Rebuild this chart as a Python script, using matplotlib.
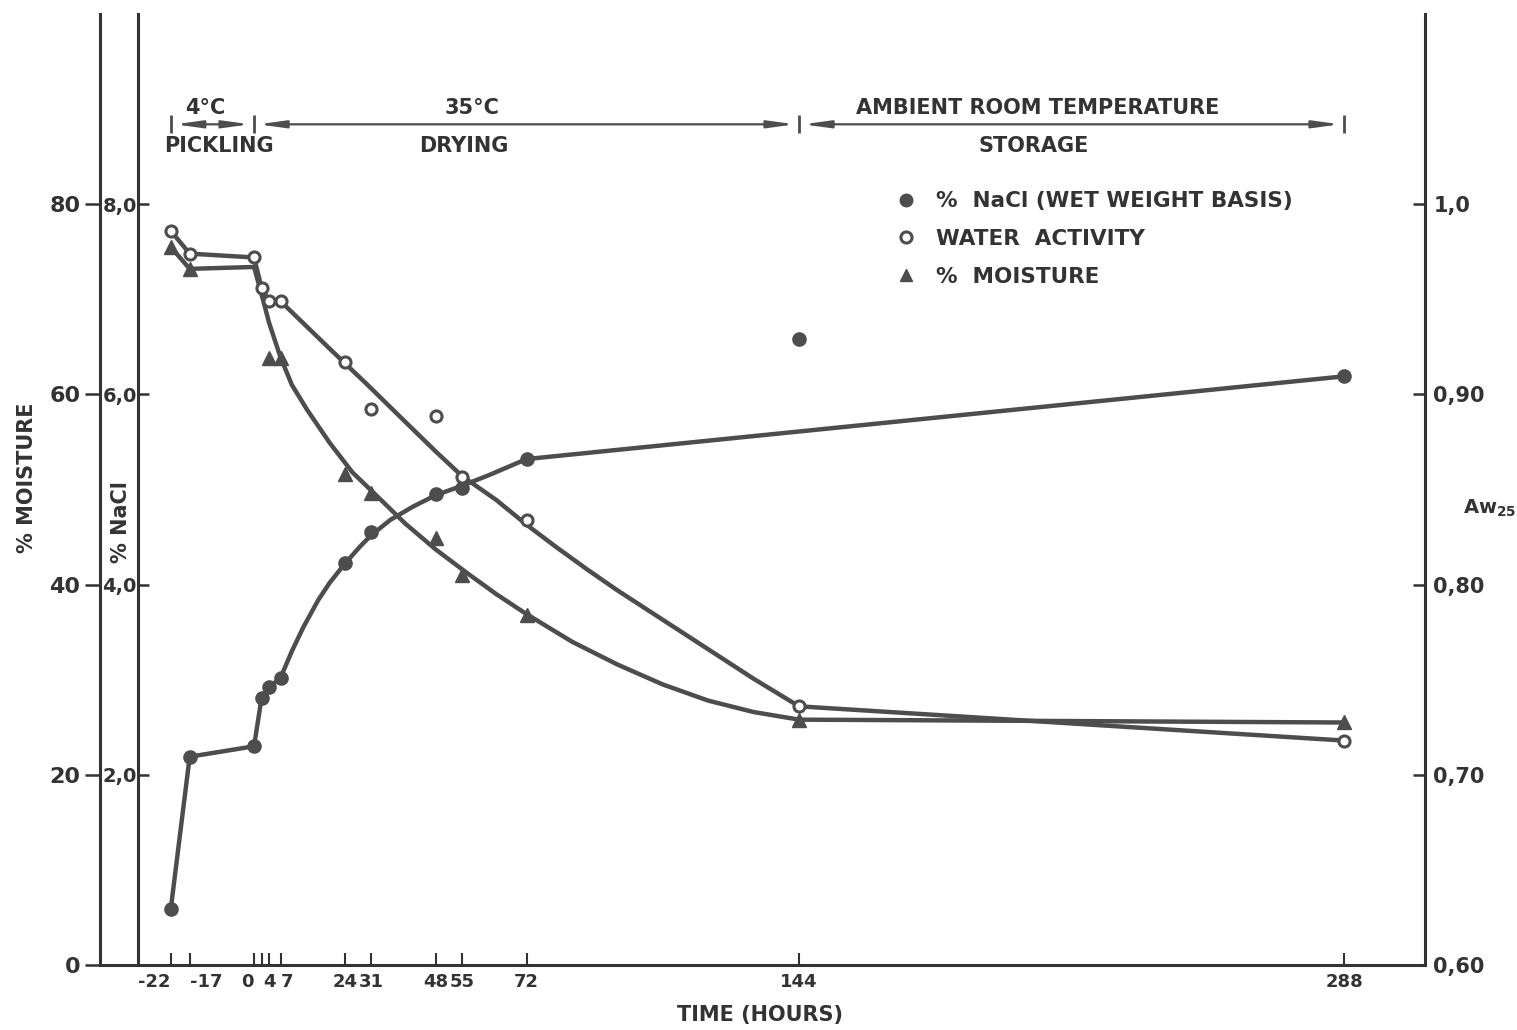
import numpy as np
import matplotlib
matplotlib.use("Agg")
from matplotlib import pyplot as plt
from matplotlib.lines import Line2D

# time axis (hours)
tick_hours = [-22, -17, 0, 2, 4, 7, 24, 31, 48, 55, 72, 144, 288]
tick_labels = ['-22', '-17', '0', '', '4', '7', '24', '31', '48', '55', '72', '144', '288']

# measured points
nacl_h = [-22, -17, 0, 2, 4, 7, 24, 31, 48, 55, 72, 144, 288]
nacl_v = [0.59, 2.19, 2.30, 2.81, 2.92, 3.02, 4.23, 4.55, 4.95, 5.02, 5.32, 6.58, 6.19]

aw_h = [-22, -17, 0, 2, 4, 7, 24, 31, 48, 55, 72, 144, 288]
aw_v = [0.986, 0.974, 0.972, 0.956, 0.949, 0.949, 0.917, 0.8925, 0.8885, 0.8565, 0.834, 0.736, 0.718]

moist_h = [-22, -17, 4, 7, 24, 31, 48, 55, 72, 144, 288]
moist_v = [75.5, 73.2, 63.8, 63.8, 51.6, 49.6, 44.9, 41.0, 36.8, 25.8, 25.5]

# hand drawn curves
nacl_line_h = [-22, -17, 0, 2, 4, 7, 10, 13, 17, 20, 24, 28, 31, 36, 42, 48, 55, 62, 72, 288]
nacl_line_v = [0.59, 2.19, 2.30, 2.81, 2.92, 3.02, 3.30, 3.55, 3.84, 4.02, 4.22, 4.40, 4.52,
               4.68, 4.82, 4.94, 5.04, 5.15, 5.32, 6.19]

aw_line_h = [-22, -17, 0, 2, 4, 7, 20, 30, 40, 48, 55, 64, 72, 80, 88, 96, 108, 120, 132, 144, 288]
aw_line_v = [0.986, 0.974, 0.972, 0.956, 0.949, 0.949, 0.924, 0.905, 0.8855, 0.870, 0.857,
             0.8445, 0.8315, 0.8195, 0.808, 0.797, 0.7815, 0.766, 0.7505, 0.736, 0.718]

moist_line_h = [-22, -17, 0, 2, 4, 7, 10, 14, 20, 26, 32, 40, 48, 56, 64, 72, 84, 96, 108,
                120, 132, 144, 288]
moist_line_v = [75.5, 73.2, 73.4, 70.5, 67.5, 63.9, 61.0, 58.4, 54.9, 51.8, 49.5, 46.4, 43.7,
                41.3, 39.0, 36.9, 34.0, 31.6, 29.5, 27.8, 26.6, 25.8, 25.5]

# processing phases
phase_edges = [-22, 0, 144, 288]
phase_top = ['4°C', '35°C', 'AMBIENT ROOM TEMPERATURE']
phase_top_h = [-12.9, 57.5, 207]
phase_bottom = ['PICKLING', 'DRYING', 'STORAGE']
phase_bottom_h = [-9.2, 55.5, 206]

ink = '#4d4d4d'
txt = '#333333'
plt.rcParams['font.family'] = 'DejaVu Sans'
plt.rcParams['font.weight'] = 'bold'

fig = plt.figure(figsize=(15.17, 10.30), dpi=100)
ax = fig.add_axes([100 / 1517, 65 / 1030, 1325 / 1517, 951 / 1030])
ax.set_xlim(-40.7, 309.4)
ax.set_ylim(0, 100)
ax.spines['top'].set_visible(False)
ax.spines['right'].set_visible(False)
for s in ['left', 'bottom']:
    ax.spines[s].set_linewidth(2.2)
    ax.spines[s].set_color(txt)
ax.set_yticks([0, 20, 40, 60, 80])
ax.set_yticklabels(['0', '20', '40', '60', '80'])
ax.tick_params(axis='y', direction='out', length=11, width=1.8, labelsize=16, pad=3, colors=txt)
ax.set_xticks(tick_hours)
ax.set_xticklabels(tick_labels)
ax.tick_params(axis='x', direction='in', length=9, width=1.5, labelsize=13, pad=6, colors=txt)
xl = ax.get_xticklabels()
xl[0].set_ha('right')
xl[1].set_ha('left')
xl[2].set_ha('right')
xl[5].set_ha('left')

# % NaCl axis
ax_na = ax.twinx()
ax_na.set_ylim(0, 10)
for s in ['top', 'right', 'bottom']:
    ax_na.spines[s].set_visible(False)
ax_na.spines['left'].set_visible(True)
ax_na.spines['left'].set_position(('data', -30.6))
ax_na.spines['left'].set_linewidth(2.2)
ax_na.spines['left'].set_color(txt)
ax_na.yaxis.tick_left()
ax_na.set_yticks([2, 4, 6, 8])
ax_na.set_yticklabels(['2,0', '4,0', '6,0', '8,0'])
ax_na.tick_params(axis='y', direction='in', length=8, width=1.8, labelsize=14, pad=1, colors=txt)

# water activity axis
ax_aw = ax.twinx()
ax_aw.set_ylim(0.6, 1.1)
for s in ['top', 'left', 'bottom']:
    ax_aw.spines[s].set_visible(False)
ax_aw.spines['right'].set_linewidth(2.2)
ax_aw.spines['right'].set_color(txt)
ax_aw.set_yticks([0.6, 0.7, 0.8, 0.9, 1.0])
ax_aw.set_yticklabels(['0,60', '0,70', '0,80', '0,90', '1,0'])
ax_aw.tick_params(axis='y', direction='in', length=9, width=1.8, labelsize=15, pad=6, colors=txt)

# curves
ax.plot(moist_line_h, moist_line_v, color=ink, lw=3.2, solid_capstyle='round', solid_joinstyle='round')
ax_na.plot(nacl_line_h, nacl_line_v, color=ink, lw=3.2, solid_capstyle='round', solid_joinstyle='round')
ax_aw.plot(aw_line_h, aw_line_v, color=ink, lw=3.2, solid_capstyle='round', solid_joinstyle='round')

# points
ax.plot(moist_h, moist_v, '^', color=ink, ms=10, ls='none')
ax_na.plot(nacl_h, nacl_v, 'o', color=ink, ms=9.5, ls='none')
ax_aw.plot(aw_h, aw_v, 'o', mfc='white', mec=ink, mew=2.2, ms=8, ls='none')

# phase bars and arrows
ybar = 88.4
ax.plot(phase_edges, [ybar] * len(phase_edges), ls='none', marker='|', ms=13, mew=2, color=ink)
for i in range(len(phase_edges) - 1):
    a, b = phase_edges[i], phase_edges[i + 1]
    ax.annotate('', xy=(b, ybar), xytext=(a, ybar),
                arrowprops=dict(arrowstyle='<|-|>,head_length=1.6,head_width=0.22',
                                color=ink, lw=1.6, shrinkA=3, shrinkB=3))
    ax.text(phase_top_h[i], 89.1, phase_top[i], ha='center', va='bottom', fontsize=15, color=txt)
    ax.text(phase_bottom_h[i], 87.2, phase_bottom[i], ha='center', va='top', fontsize=15, color=txt)

# legend
handles = [
    Line2D([], [], ls='none', marker='o', color=ink, ms=9),
    Line2D([], [], ls='none', marker='o', mfc='white', mec=ink, mew=2.2, ms=8),
    Line2D([], [], ls='none', marker='^', color=ink, ms=9),
]
labels = ['%  NaCl (WET WEIGHT BASIS)', 'WATER  ACTIVITY', '%  MOISTURE']
leg = ax_aw.legend(handles, labels, loc='upper left', bbox_to_anchor=(0.6, 0.8135),
                   frameon=False, fontsize=15.5, handlelength=1.0, handletextpad=0.9,
                   labelspacing=0.82, borderpad=0, borderaxespad=0)
for t in leg.get_texts():
    t.set_color(txt)

# axis titles
fig.text(27 / 1517, 1 - 478 / 1030, '% MOISTURE', rotation=90, ha='center', va='center',
         fontsize=15, color=txt)
fig.text(121 / 1517, 1 - 522 / 1030, '% NaCl', rotation=90, ha='center', va='center',
         fontsize=15, color=txt)
fig.text(1490 / 1517, 1 - 508 / 1030, 'Aw$_{\\mathbf{25}}$', ha='center', va='center',
         fontsize=14, color=txt)
fig.text(760 / 1517, 1 - 1015 / 1030, 'TIME (HOURS)', ha='center', va='center',
         fontsize=15, color=txt)

fig.savefig('out.png', dpi=100)
